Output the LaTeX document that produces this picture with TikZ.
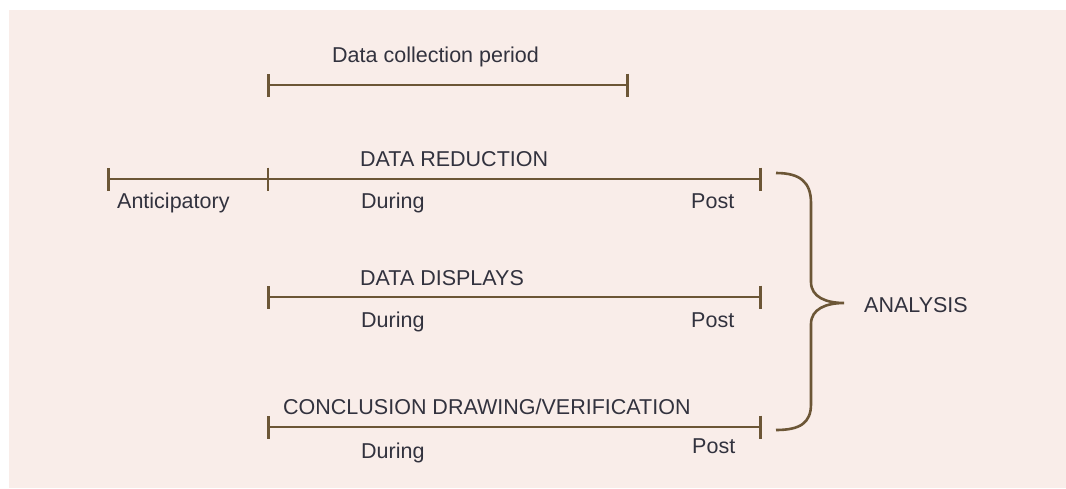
\documentclass[tikz,border=0pt]{standalone}
\usepackage{fontspec}
\setmainfont{Liberation Sans}
\usetikzlibrary{arrows.meta,positioning}
\definecolor{panelpink}{RGB}{249,237,233}
\definecolor{linebrown}{RGB}{108,86,54}
\definecolor{textgrey}{RGB}{50,50,62}

\begin{document}
\begin{tikzpicture}[x = 1pt, y = -1pt, line cap = butt,
  timeline/.style = {draw = linebrown, line width = 2.6pt, {Bar[width = 23pt]}-{Bar[width = 23pt]}},
  tick/.style = {draw = linebrown, line width = 2.6pt},
  lbl/.style = {text = textgrey, font = \fontsize{21.5pt}{26pt}\selectfont, anchor = base west, inner sep = 0pt}]
\useasboundingbox (0,0) rectangle (1066,488);
\fill[panelpink] (9,10) rectangle (1066,488);

% collection period
\coordinate (col0) at (267,85);
\coordinate (col1) at (629,85);
\draw[timeline] (col0) -- (col1);
\node[lbl] (collect) at (332,62) {Data collection period};

% data reduction
\coordinate (red0) at (107,179);
\coordinate (red1) at (268,179);
\coordinate (red2) at (762,179);
\draw[timeline] (red0) -- (red2);
\draw[tick] ([yshift = 11.5pt]red1) -- ([yshift = -11.5pt]red1);
\node[lbl] (reduction) at (360,166) {DATA REDUCTION};
\node[lbl] (antic) at (117,208) {Anticipatory};
\node[lbl] (during1) at (361,208) {During};
\node[lbl] (post1) at (691,208) {Post};

% data displays
\coordinate (dis0) at (267,297);
\coordinate (dis1) at (762,297);
\draw[timeline] (dis0) -- (dis1);
\node[lbl] (displays) at (360,285) {DATA DISPLAYS};
\node[lbl] (during2) at (361,327) {During};
\node[lbl] (post2) at (691,327) {Post};

% conclusion drawing
\coordinate (con0) at (267,427);
\coordinate (con1) at (762,427);
\draw[timeline] (con0) -- (con1);
\node[lbl] (conclusion) at (283,414) {CONCLUSION DRAWING/VERIFICATION};
\node[lbl] (during3) at (361,458) {During};
\node[lbl] (post3) at (692,453) {Post};

% brace
\coordinate (brtop) at (776,173);
\coordinate (brtip) at (844,303);
\coordinate (brbot) at (776,430);
\draw[linebrown, line width = 2.6pt]
  (brtop) .. controls (800,173) and (811,182) .. (811,203) -- (811,282)
  .. controls (811,297) and (826,303) .. (brtip)
  .. controls (826,303) and (811,309) .. (811,324) -- (811,404)
  .. controls (811,423) and (800,430) .. (brbot);
\node[lbl] (analysis) at (864,312) {ANALYSIS};
\end{tikzpicture}
\end{document}
